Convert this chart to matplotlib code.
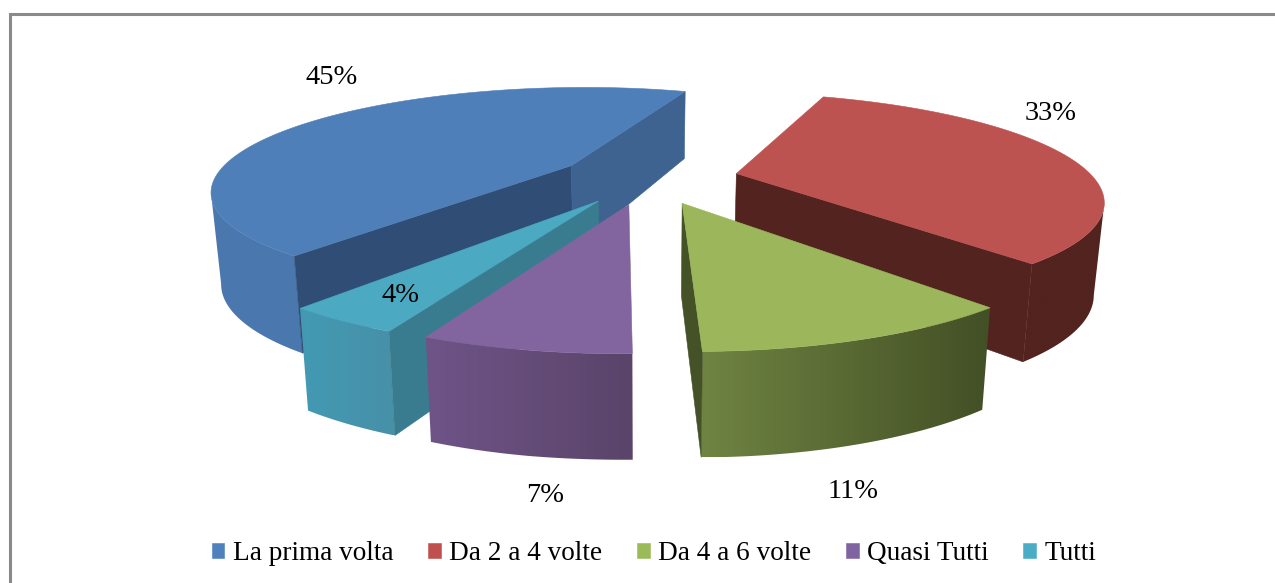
import numpy as np
import matplotlib
matplotlib.use("Agg")
import matplotlib.pyplot as plt
from matplotlib.colors import to_rgb
from matplotlib.patches import Patch, Polygon

# === DATOS ===
categorie = ["La prima volta", "Da 2 a 4 volte", "Da 4 a 6 volte", "Quasi Tutti", "Tutti"]
valori = [45, 33, 11, 7, 4]
etichette = ["45%", "33%", "11%", "7%", "4%"]
pos_etichette = [(332, 78), (1051, 113), (853, 491), (545, 496), (401, 296)]

colori = ["#4f7fb8", "#bc5350", "#9bb65b", "#82659e", "#4ca9c2"]
colori_legenda = ["#4f81bd", "#c0504d", "#9bbb59", "#8064a2", "#4bacc6"]
lato_sx = ["#4a78ae", "#52231f", "#6f8442", "#6f5488", "#439ab3"]
lato_dx = ["#4a78ae", "#52231f", "#434f25", "#5a4469", "#4790a8"]
taglio_inizio = ["#304e75", "#52231f", "#434f25", "#5a4469", "#3a7c8f"]
taglio_fine = ["#3e6391", "#52231f", "#455126", "#5a4469", "#3a7c8f"]

# ordine di disegno, da dietro a davanti
ordine = [0, 1, 4, 3, 2]

# === GEOMETRIA DELLA TORTA (prospettiva) ===
CX, CY = 648, 178
A, B, K = 357, 101, 0.226
ESPLOSO = 0.254
ANGOLO_INIZIO = 218.5
SCALA_BASE = 0.977
Y_REF = [91, 200, 350]
SPESSORE = [67, 92, 106]


def proietta(X, Y):
    w = 1 + K * Y
    return CX + A * X / w, CY - B * Y / w


def base(x, y):
    return CX + (x - CX) * SCALA_BASE, y + np.interp(y, Y_REF, SPESSORE)


def visibile(normale):
    # la faccia si vede se la normale punta verso chi guarda
    return np.cos(np.radians(normale)) < 0


fig = plt.figure(figsize=(12.75, 5.83), dpi=100)
ax = fig.add_axes([0, 0, 1, 1])

# cornice del grafico
ax.plot([10, 10, 1275], [583, 14, 14], color="#8a8a8a", lw=2.2, solid_joinstyle="miter")

inizi = ANGOLO_INIZIO + 3.6 * np.concatenate([[0], np.cumsum(valori)[:-1]])

for n, i in enumerate(ordine):
    z = 2 + n  # le immagini altrimenti finiscono sotto le patch
    a0 = inizi[i]
    a1 = a0 + 3.6 * valori[i]
    med = np.radians((a0 + a1) / 2)
    ox, oy = ESPLOSO * np.sin(med), ESPLOSO * np.cos(med)
    ax0, ay0 = proietta(ox, oy)

    ang = np.radians(np.linspace(a0, a1, int(a1 - a0) * 2 + 2))
    rx, ry = proietta(ox + np.sin(ang), oy + np.cos(ang))
    bx, by = base(rx, ry)
    bax, bay = base(ax0, ay0)

    # lato esterno: solo il tratto davanti, con sfumatura
    davanti = np.gradient(rx) < 0
    if davanti.any():
        fx = np.r_[rx[davanti], bx[davanti][::-1]]
        fy = np.r_[ry[davanti], by[davanti][::-1]]
        contorno = Polygon(np.column_stack([fx, fy]), fc="none", ec="none")
        ax.add_patch(contorno)
        c0, c1 = np.array(to_rgb(lato_sx[i])), np.array(to_rgb(lato_dx[i]))
        grad = c0 + (c1 - c0) * np.linspace(0, 1, 200)[:, None]
        im = ax.imshow(grad[None, :, :], extent=(fx.min(), fx.max(), fy.max(), fy.min()),
                       aspect="auto", interpolation="bilinear", zorder=z)
        im.set_clip_path(contorno)

    # facce radiali visibili
    for k, col, normale in ((0, taglio_inizio[i], a0 - 90), (-1, taglio_fine[i], a1 + 90)):
        if visibile(normale):
            ax.add_patch(Polygon([(ax0, ay0), (rx[k], ry[k]), (bx[k], by[k]), (bax, bay)],
                                 fc=col, ec=col, lw=0.4, zorder=z + 0.1))

    # faccia superiore
    ax.add_patch(Polygon(np.column_stack([np.r_[ax0, rx], np.r_[ay0, ry]]),
                         fc=colori[i], ec=colori[i], lw=0.4, zorder=z + 0.2))

for testo, (x, y) in zip(etichette, pos_etichette):
    ax.text(x, y, testo, ha="center", va="center", family="Liberation Serif",
            fontsize=20.5, color="black", zorder=10)

ax.set_xlim(0, 1275)
ax.set_ylim(583, 0)
ax.axis("off")

maniglie = [Patch(fc=c, ec=c, lw=0.4, label=n) for c, n in zip(colori_legenda, categorie)]
ax.legend(handles=maniglie, ncols=5, loc="center", bbox_to_anchor=(654 / 1275, 1 - 554 / 583),
          frameon=False, prop={"family": "Liberation Serif", "size": 19.6},
          handlelength=0.47, handleheight=0.47, handletextpad=0.32, columnspacing=1.26)

fig.savefig("out.png", dpi=100)
